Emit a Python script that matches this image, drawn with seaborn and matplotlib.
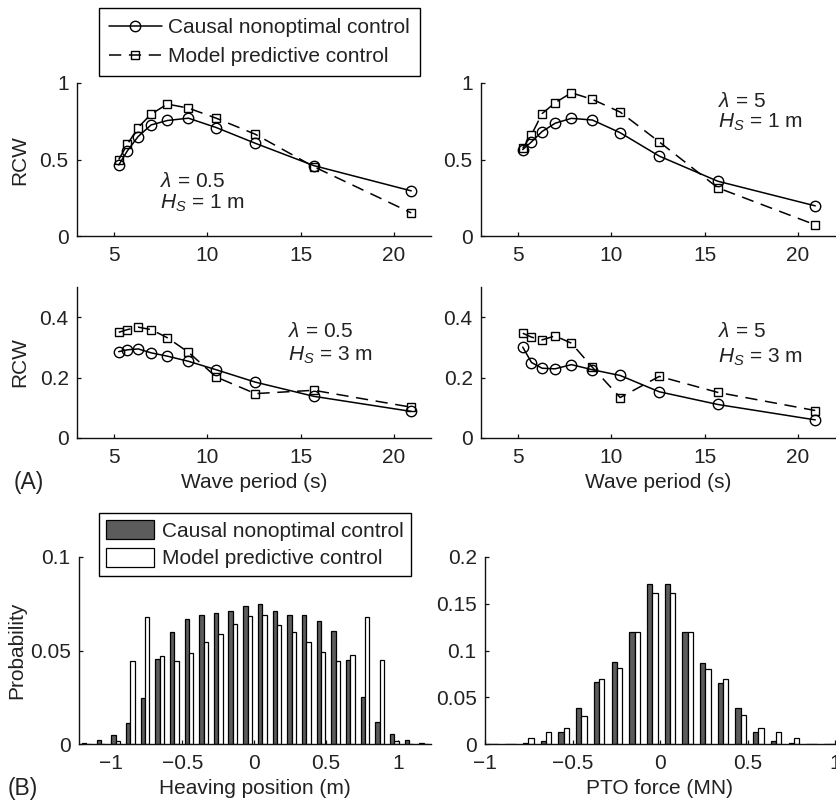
import numpy as np
import pandas as pd
import matplotlib
matplotlib.use("Agg")
import matplotlib.pyplot as plt
import seaborn as sns
from matplotlib.lines import Line2D
from matplotlib.patches import Patch
from matplotlib.ticker import FuncFormatter

# ---------------- data ----------------
periods = [5.24, 5.71, 6.28, 6.98, 7.85, 8.98, 10.47, 12.57, 15.71, 20.94]

cnc_l05_h1 = [0.464, 0.558, 0.650, 0.726, 0.755, 0.770, 0.709, 0.606, 0.460, 0.295]
mpc_l05_h1 = [0.500, 0.600, 0.709, 0.797, 0.862, 0.836, 0.770, 0.665, 0.453, 0.151]

cnc_l5_h1 = [0.565, 0.615, 0.683, 0.737, 0.769, 0.758, 0.675, 0.522, 0.358, 0.197]
mpc_l5_h1 = [0.572, 0.662, 0.800, 0.871, 0.936, 0.893, 0.810, 0.615, 0.315, 0.073]

cnc_l05_h3 = [0.286, 0.292, 0.295, 0.282, 0.271, 0.254, 0.226, 0.185, 0.138, 0.088]
mpc_l05_h3 = [0.350, 0.359, 0.367, 0.359, 0.332, 0.284, 0.202, 0.147, 0.158, 0.102]

cnc_l5_h3 = [0.301, 0.250, 0.231, 0.229, 0.243, 0.226, 0.207, 0.153, 0.111, 0.060]
mpc_l5_h3 = [0.347, 0.334, 0.325, 0.338, 0.314, 0.234, 0.134, 0.204, 0.151, 0.091]

heave_bins = [-1.169, -1.067, -0.965, -0.863, -0.761, -0.659, -0.557, -0.455,
              -0.353, -0.251, -0.149, -0.046, 0.056, 0.158, 0.260, 0.362,
              0.464, 0.566, 0.668, 0.770, 0.873, 0.975, 1.077, 1.179]
heave_cnc = [0.0005, 0.0023, 0.0050, 0.0112, 0.0246, 0.0456, 0.0599, 0.0668,
             0.0688, 0.0700, 0.0713, 0.0740, 0.0749, 0.0713, 0.0692, 0.0688,
             0.0660, 0.0602, 0.0451, 0.0250, 0.0118, 0.0053, 0.0023, 0.0005]
heave_mpc = [0.0, 0.0, 0.0018, 0.0446, 0.0679, 0.0472, 0.0446, 0.0487,
             0.0545, 0.0590, 0.0642, 0.0686, 0.0692, 0.0635, 0.0599, 0.0544,
             0.0490, 0.0446, 0.0478, 0.0679, 0.0447, 0.0018, 0.0, 0.0]

force_bins = [-0.9545, -0.8535, -0.7525, -0.6515, -0.5505, -0.4495, -0.3485,
              -0.2475, -0.1465, -0.0455, 0.0555, 0.1565, 0.2575, 0.3585,
              0.4595, 0.5605, 0.6615, 0.7625, 0.8635, 0.9645]
force_cnc = [0.0002, 0.0003, 0.0007, 0.0036, 0.0128, 0.0380, 0.0663, 0.0877,
             0.1200, 0.1715, 0.1715, 0.1200, 0.0866, 0.0656, 0.0385, 0.0132,
             0.0036, 0.0007, 0.0004, 0.0001]
force_mpc = [0.0, 0.0001, 0.0064, 0.0128, 0.0168, 0.0300, 0.0700, 0.0813,
             0.1200, 0.1615, 0.1610, 0.1200, 0.0800, 0.0700, 0.0314, 0.0170,
             0.0125, 0.0060, 0.0001, 0.0]

labels = ["Causal nonoptimal control", "Model predictive control"]

# ---------------- style ----------------
sns.set_style("ticks")
plt.rcParams["font.family"] = ["Liberation Sans", "DejaVu Sans"]
plt.rcParams["mathtext.fontset"] = "custom"
plt.rcParams["mathtext.rm"] = "Liberation Sans"
plt.rcParams["mathtext.it"] = "Liberation Sans:italic"
plt.rcParams["axes.unicode_minus"] = True
FS = 15
TXT = "#222222"
DARK = "#5c5c5c"
DASH = (0, (8, 5))

fig = plt.figure(figsize=(8.36, 8.02), dpi=100)
W, H = 836.0, 802.0


def add_ax(x0, x1, ytop, ybot):
    return fig.add_axes([x0 / W, 1 - ybot / H, (x1 - x0) / W, (ybot - ytop) / H])


def fmt(v, pos):
    s = "{:g}".format(round(v, 4))
    return s.replace("-", "\u2212")


def style(ax):
    sns.despine(ax=ax)
    for sp in ("left", "bottom"):
        ax.spines[sp].set_linewidth(1.0)
        ax.spines[sp].set_color("#111111")
    ax.tick_params(direction="in", length=3, width=0.9, labelsize=FS,
                   colors="#111111", labelcolor=TXT)
    ax.tick_params(axis="x", pad=7)
    ax.tick_params(axis="y", pad=6)
    ax.xaxis.set_major_formatter(FuncFormatter(fmt))
    ax.yaxis.set_major_formatter(FuncFormatter(fmt))
    ax.set_xlabel("")
    ax.set_ylabel("")
    ax.grid(False)


line_axes = [
    (add_ax(77, 431, 83, 236), cnc_l05_h1, mpc_l05_h1, (0, 1), [0, 0.5, 1],
     (7.45, 0.32, 0.176)),
    (add_ax(481, 835, 83, 236), cnc_l5_h1, mpc_l5_h1, (0, 1), [0, 0.5, 1],
     (15.7, 0.843, 0.706)),
    (add_ax(77, 431, 287, 438), cnc_l05_h3, mpc_l05_h3, (0, 0.5), [0, 0.2, 0.4],
     (14.3, 0.334, 0.255)),
    (add_ax(481, 835, 287, 438), cnc_l5_h3, mpc_l5_h3, (0, 0.5), [0, 0.2, 0.4],
     (15.7, 0.334, 0.248)),
]
lam_txt = ["0.5", "5", "0.5", "5"]
hs_txt = ["1", "1", "3", "3"]

for i, (ax, cnc, mpc, ylim, yt, tpos) in enumerate(line_axes):
    sns.lineplot(x=periods, y=cnc, ax=ax, color="k", lw=1.1, marker="o",
                 markersize=7.5, markerfacecolor="none", markeredgecolor="k",
                 markeredgewidth=1.0)
    sns.lineplot(x=periods, y=mpc, ax=ax, color="k", lw=1.1, marker="s",
                 markersize=6, markerfacecolor="none", markeredgecolor="k",
                 markeredgewidth=1.0, linestyle=DASH)
    ax.set_xlim(3, 22)
    ax.set_ylim(*ylim)
    ax.set_xticks([5, 10, 15, 20])
    ax.set_yticks(yt)
    style(ax)
    x0, y1, y2 = tpos
    ax.text(x0, y1, r"$\lambda$ = " + lam_txt[i], fontsize=FS, color=TXT,
            va="baseline", ha="left")
    ax.text(x0, y2, r"$H_S$ = " + hs_txt[i] + " m", fontsize=FS, color=TXT,
            va="baseline", ha="left")

# histograms
hist_specs = [
    (add_ax(79, 431, 557, 744), heave_bins, heave_cnc, heave_mpc,
     (-1.22, 1.23), [0, 0.05, 0.1], (0, 0.1)),
    (add_ax(485, 839, 557, 744), force_bins, force_cnc, force_mpc,
     (-1.0, 1.02), [0, 0.05, 0.1, 0.15, 0.2], (0, 0.2)),
]
for ax, bins, cnc, mpc, xlim, yt, ylim in hist_specs:
    df = pd.DataFrame({
        "x": list(bins) + list(bins),
        "p": list(cnc) + list(mpc),
        "m": [labels[0]] * len(bins) + [labels[1]] * len(bins),
    })
    sns.barplot(data=df, x="x", y="p", hue="m", native_scale=True, width=0.6,
                dodge=True, gap=0, palette=[DARK, "white"], edgecolor="k",
                linewidth=0.9, errorbar=None, ax=ax, legend=False)
    ax.set_xlim(*xlim)
    ax.set_ylim(*ylim)
    ax.set_xticks([-1, -0.5, 0, 0.5, 1])
    ax.set_yticks(yt)
    style(ax)

# legends
h_lines = [
    Line2D([], [], color="k", lw=1.1, marker="o", markersize=7.5,
           markerfacecolor="none", markeredgecolor="k"),
    Line2D([], [], color="k", lw=1.1, marker="s", markersize=6,
           markerfacecolor="none", markeredgecolor="k", linestyle=DASH),
]
leg1 = fig.legend(h_lines, labels, loc="upper left",
                  bbox_to_anchor=(99 / W, 1 - 8 / H), fontsize=FS,
                  frameon=True, fancybox=False, framealpha=1, edgecolor="k",
                  handlelength=2.5, handletextpad=0.3, borderpad=0.5,
                  labelspacing=0.45, borderaxespad=0, numpoints=1)
leg1.get_frame().set_linewidth(1.0)
for t in leg1.get_texts():
    t.set_color(TXT)

h_bars = [Patch(facecolor=DARK, edgecolor="k", lw=0.9),
          Patch(facecolor="white", edgecolor="k", lw=0.9)]
leg2 = fig.legend(h_bars, labels, loc="upper left",
                  bbox_to_anchor=(99 / W, 1 - 513 / H), fontsize=FS,
                  frameon=True, fancybox=False, framealpha=1, edgecolor="k",
                  handlelength=2.3, handleheight=1.0, handletextpad=0.35,
                  borderpad=0.35, labelspacing=0.35, borderaxespad=0)
leg2.get_frame().set_linewidth(1.0)
for t in leg2.get_texts():
    t.set_color(TXT)

# axis labels and panel labels
def ftxt(x, y, s, size=FS, **kw):
    fig.text(x / W, 1 - y / H, s, fontsize=size, color=TXT, ha="center",
             va="center", **kw)

ftxt(20, 160, "RCW", rotation=90)
ftxt(20, 362, "RCW", rotation=90)
ftxt(17, 650, "Probability", rotation=90)
ftxt(254, 482, "Wave period (s)")
ftxt(658, 482, "Wave period (s)")
ftxt(255, 789, "Heaving position (m)")
ftxt(660, 789, "PTO force (MN)")
ftxt(29, 482, "(A)", size=16.5)
ftxt(23, 789, "(B)", size=16.5)

fig.savefig("out.png", dpi=100)
